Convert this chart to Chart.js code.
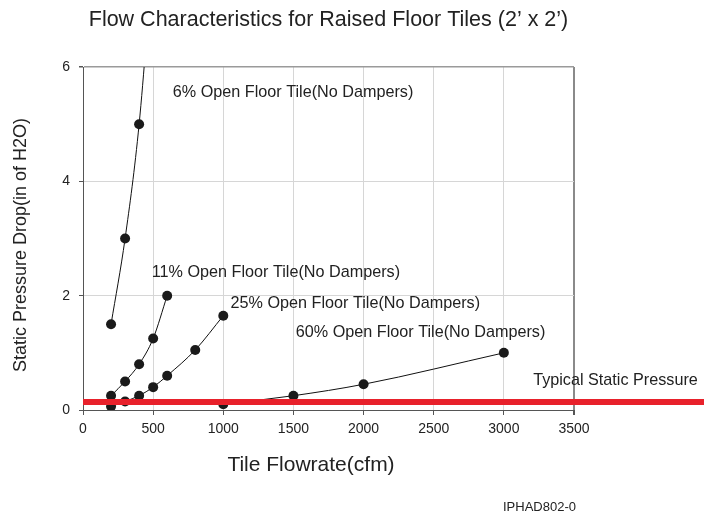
<!DOCTYPE html>
<html><head><meta charset="utf-8">
<script src="https://cdn.jsdelivr.net/npm/chart.js@4.4.1/dist/chart.umd.min.js"></script>
<style>html,body{margin:0;padding:0;background:#fff;}#wrap{width:704px;height:516px;position:relative;}</style>
</head><body><div id="wrap"><canvas id="c" width="704" height="516"></canvas></div>
<script>
// ---- data ----
const chartTitle = "Flow Characteristics for Raised Floor Tiles (2\u2019 x 2\u2019)";
const xAxisTitle = "Tile Flowrate(cfm)";
const yAxisTitle = "Static Pressure Drop(in of H2O)";
const footerText = "IPHAD802-0";
const xTickValues = [0, 500, 1000, 1500, 2000, 2500, 3000, 3500];
const yTickValues = [0, 2, 4, 6];

const flow6 = [200, 300, 400, 500];
const drop6 = [1.5, 3.0, 5.0, 8.0];
const flow11 = [200, 300, 400, 500, 600];
const drop11 = [0.25, 0.5, 0.8, 1.25, 2.0];
const flow25 = [200, 300, 400, 500, 600, 800, 1000];
const drop25 = [0.06, 0.15, 0.25, 0.4, 0.6, 1.05, 1.65];
const flow60 = [1000, 1500, 2000, 3000];
const drop60 = [0.1, 0.25, 0.45, 1.0];
const typicalPressure = 0.14;
const typicalFlowRange = [0, 4430];

const seriesLabels = [
  "6% Open Floor Tile(No Dampers)",
  "11% Open Floor Tile(No Dampers)",
  "25% Open Floor Tile(No Dampers)",
  "60% Open Floor Tile(No Dampers)",
  "Typical Static Pressure"
];
const labelAnchorX = [640, 490, 1052, 1517, 3209];
const labelAnchorY = [5.55, 2.41, 1.87, 1.36, 0.51];

// ---- build ----
const pts = (xs, ys) => xs.map((x, i) => ({x, y: ys[i]}));
const FONT = "'Liberation Sans', Arial, sans-serif";
const curve = (label, data) => ({
  label, data, showLine: true,
  borderColor: '#111', borderWidth: 1,
  pointRadius: 5, pointHoverRadius: 5,
  pointBackgroundColor: '#1a1a1a', pointBorderWidth: 0,
  cubicInterpolationMode: 'monotone',
  order: 1
});

const textPlugin = {
  id: 'texts',
  afterDraw(chart) {
    const ctx = chart.ctx, xs = chart.scales.x, ys = chart.scales.y;
    ctx.save();
    ctx.fillStyle = '#222';
    ctx.textBaseline = 'middle';
    ctx.textAlign = 'left';
    ctx.font = '16.2px ' + FONT;
    seriesLabels.forEach((t, i) => {
      ctx.fillText(t, xs.getPixelForValue(labelAnchorX[i]), ys.getPixelForValue(labelAnchorY[i]));
    });
    ctx.font = '21px ' + FONT;
    ctx.textAlign = 'center';
    ctx.fillText(xAxisTitle, 311, 465);
    ctx.save();
    ctx.translate(21, 245);
    ctx.rotate(-Math.PI / 2);
    ctx.font = '18px ' + FONT;
    ctx.fillText(yAxisTitle, 0, 0);
    ctx.restore();
    ctx.font = '13px ' + FONT;
    ctx.textAlign = 'left';
    ctx.fillText(footerText, 503, 507);
    ctx.restore();
  }
};

new Chart(document.getElementById('c'), {
  type: 'scatter',
  data: {
    datasets: [
      {
        label: seriesLabels[4],
        data: pts(typicalFlowRange, [typicalPressure, typicalPressure]),
        showLine: true, borderColor: '#e8212b', borderWidth: 6,
        pointRadius: 0, clip: false, order: 0
      },
      curve(seriesLabels[0], pts(flow6, drop6)),
      curve(seriesLabels[1], pts(flow11, drop11)),
      curve(seriesLabels[2], pts(flow25, drop25)),
      curve(seriesLabels[3], pts(flow60, drop60))
    ]
  },
  options: {
    responsive: false, animation: false, devicePixelRatio: 1,
    layout: {padding: {left: 0, right: 130, top: 0, bottom: 0}},
    plugins: {
      legend: {display: false}, tooltip: {enabled: false},
      title: {
        display: true, text: chartTitle, fullSize: false,
        color: '#222', font: {family: FONT, size: 21.5, weight: 'normal'},
        padding: {top: 7, bottom: 34.2}
      }
    },
    scales: {
      x: {
        type: 'linear', min: 0, max: 3500,
        afterFit(s) { s.height = 106; },
        afterBuildTicks(s) { s.ticks = xTickValues.map(v => ({value: v})); },
        ticks: {color: '#222', font: {family: FONT, size: 14}, padding: 6, maxRotation: 0,
                callback: v => String(v)},
        border: {display: true, color: '#555', width: 1},
        grid: {
          color: c => c.tick && c.tick.value === 3500 ? '#8a8a8a' : '#d6d6d6',
          lineWidth: c => c.tick && c.tick.value === 3500 ? 2 : 1,
          tickColor: '#555', tickLength: 5, drawTicks: true
        }
      },
      y: {
        type: 'linear', min: 0, max: 6,
        afterFit(s) { s.width = 83; },
        afterBuildTicks(s) { s.ticks = yTickValues.map(v => ({value: v})); },
        ticks: {color: '#222', font: {family: FONT, size: 14}, padding: 9,
                callback: v => String(v)},
        border: {display: true, color: '#555', width: 1},
        grid: {
          color: c => c.tick && c.tick.value === 6 ? '#9a9a9a' : '#d6d6d6',
          lineWidth: c => c.tick && c.tick.value === 6 ? 1.5 : 1,
          tickColor: '#555', tickLength: 4, drawTicks: true
        }
      }
    }
  },
  plugins: [textPlugin]
});
</script></body></html>
